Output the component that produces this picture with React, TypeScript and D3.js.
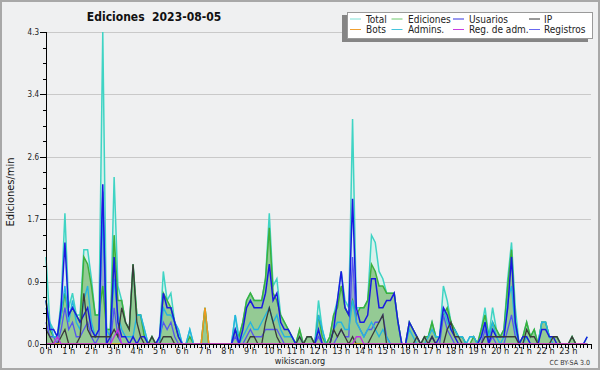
import React from "react";
import * as d3 from "d3";

// values are edits per 10 minutes (tenths of edits/min), one point every 10 minutes
const total = [
  12,3,2,1,6,18,5,7,4,4,
  13,13,9,4,4,43,2,2,23,8,
  6,3,2,11,4,4,2,0,1,0,
  1,10,6,7,3,2,0,0,2,0,
  0,0,5,0,0,0,0,0,0,0,
  4,1,3,6,7,6,6,6,9,18,
  8,9,4,3,2,1,0,2,0,1,
  1,0,6,2,0,1,4,6,10,6,
  5,31,5,5,5,6,15,14,10,9,
  7,7,7,3,0,0,3,2,1,0,
  1,1,3,1,1,8,6,3,2,1,
  1,0,1,1,0,2,5,1,5,2,
  1,2,9,14,5,0,1,3,1,2,
  0,3,3,1,1,1,0,0,0,1,
  0,0,0,1,
];
const ediciones = [
  6,2,1,1,4,7,4,5,4,3,
  12,11,8,4,4,8,2,2,15,6,
  6,3,2,11,4,4,1,0,1,0,
  0,7,6,5,3,1,0,0,1,0,
  0,0,5,0,0,0,0,0,0,0,
  2,1,3,6,7,6,6,6,9,16,
  7,6,4,3,2,1,0,2,0,1,
  1,0,4,1,0,1,4,5,8,5,
  4,6,4,5,5,6,11,10,8,8,
  7,7,7,3,0,0,3,2,1,0,
  1,1,3,1,1,4,5,3,2,1,
  1,0,0,1,0,2,4,1,3,2,
  1,2,8,13,3,0,1,3,1,2,
  0,3,3,1,1,1,0,0,0,1,
  0,0,0,0,
];
const usuarios = [
  6,2,2,1,5,14,4,5,4,3,
  4,5,2,1,2,22,0,1,12,3,
  1,1,0,1,0,1,1,0,0,0,
  1,7,5,5,3,1,0,0,0,0,
  0,0,0,0,0,0,0,0,0,0,
  2,0,2,5,6,5,5,5,7,11,
  6,7,3,2,2,1,0,0,0,0,
  0,0,2,0,0,0,2,6,10,5,
  4,20,5,3,3,4,9,9,5,5,
  6,6,7,3,0,0,3,2,1,0,
  0,0,1,0,1,5,4,2,1,0,
  0,0,0,0,0,1,3,0,2,1,
  1,1,5,12,3,0,1,1,0,0,
  0,2,2,1,1,0,0,0,0,0,
  0,0,0,1,
];
const ip = [
  2,1,0,0,1,2,0,0,0,1,
  7,2,1,1,1,1,1,1,2,1,
  5,3,2,11,3,1,0,0,1,0,
  0,1,1,1,0,0,0,0,0,0,
  0,0,0,0,0,0,0,0,0,0,
  0,0,0,0,1,1,0,0,3,5,
  3,1,0,0,0,0,0,1,0,1,
  1,0,0,0,0,0,2,1,2,1,
  0,1,0,0,0,0,1,2,3,4,
  0,0,0,0,0,0,0,0,1,0,
  1,0,1,0,0,0,2,3,1,1,
  0,0,0,0,0,0,1,1,1,1,
  1,1,1,1,1,0,0,2,1,1,
  0,0,0,0,1,1,0,0,0,1,
  0,0,0,0,
];
const admins = [
  5,3,1,1,4,8,3,6,3,2,
  6,8,3,1,2,18,2,1,9,4,
  2,1,1,1,4,4,2,0,0,0,
  0,5,4,4,3,2,0,0,2,0,
  0,0,0,0,0,0,0,0,0,0,
  4,0,1,2,3,2,2,3,4,5,
  3,4,2,1,1,1,0,1,0,0,
  0,0,4,2,0,0,2,3,3,2,
  2,6,3,2,1,2,3,2,1,2,
  1,0,0,0,0,0,2,1,0,0,
  0,1,2,1,1,5,3,2,2,1,
  1,0,1,1,0,1,3,1,3,1,
  0,1,6,8,2,0,0,1,0,0,
  0,3,3,1,0,0,0,0,0,0,
  0,0,0,0,
];
const registros = [
  3,1,1,0,2,5,2,3,1,1,
  2,3,1,0,1,21,0,0,5,1,
  0,0,0,0,0,0,0,0,0,0,
  1,3,2,3,1,0,0,0,0,0,
  0,0,0,0,0,0,0,0,0,0,
  1,0,0,1,2,1,1,1,2,2,
  2,2,1,0,0,0,0,0,0,0,
  0,0,1,0,0,0,0,1,2,1,
  1,12,3,2,1,2,2,3,3,4,
  1,0,0,0,0,0,0,0,0,0,
  0,0,0,0,0,4,2,1,0,0,
  0,0,0,0,0,0,2,0,1,0,
  0,0,2,4,1,0,0,0,0,0,
  0,0,0,0,0,0,0,0,0,0,
  0,0,0,0,
];
const bots = [
  0,0,0,0,0,0,0,0,0,0,
  0,0,0,0,0,0,0,0,0,0,
  0,0,0,0,0,0,0,0,0,0,
  0,0,0,0,0,0,0,0,0,0,
  0,0,5,0,0,0,0,0,0,0,
  0,0,0,0,0,0,0,0,0,0,
  0,0,0,0,0,0,0,0,0,0,
  0,0,0,0,0,0,0,0,0,0,
  0,0,0,0,0,0,0,0,0,0,
  0,0,0,0,0,0,0,0,0,0,
  0,0,0,0,0,0,0,0,0,0,
  0,0,0,0,0,0,0,0,0,0,
  0,0,0,0,0,0,0,0,0,0,
  0,0,0,0,0,0,0,0,0,0,
  0,0,0,0,
];
const regAdm = [
  0,0,0,1,0,0,0,0,0,0,
  0,0,0,0,0,0,0,0,1,2,
  0,0,0,0,0,0,0,0,0,0,
  0,0,0,0,0,0,0,0,0,0,
  0,0,0,0,0,0,0,0,0,0,
  0,0,0,0,0,0,0,0,0,0,
  0,0,0,0,0,0,0,0,0,0,
  0,0,0,0,0,0,0,0,0,0,
  0,0,1,1,0,0,0,0,0,0,
  0,0,0,0,0,0,0,0,0,0,
  0,0,0,0,0,0,0,0,0,0,
  0,0,0,0,0,0,0,0,0,0,
  0,0,0,0,0,0,0,0,0,0,
  0,0,0,0,0,0,0,0,0,0,
  0,0,0,0,
];

const yTickValues = [0, 0.86, 1.72, 2.58, 3.44, 4.3];
const yTickLabels = ["0.0", "0.9", "1.7", "2.6", "3.4", "4.3"];
const hours = d3.range(24);
const hourLabels = hours.map((h) => `${h} h`);

const legendRow1 = [
  { name: "Total", color: "#7fe0d6" },
  { name: "Ediciones", color: "#6cc86c" },
  { name: "Usuarios", color: "#3333e0" },
  { name: "IP", color: "#333333" },
];
const legendRow2 = [
  { name: "Bots", color: "#f0a030" },
  { name: "Admins.", color: "#45c4dc" },
  { name: "Reg. de adm.", color: "#c83ce0" },
  { name: "Registros", color: "#6868f0" },
];

const FONT = "'DejaVu Sans Condensed', 'DejaVu Sans', sans-serif";

export default function App() {
  const x = d3.scaleLinear().domain([0, 1440]).range([46, 591]);
  const y = d3.scaleLinear().domain([0, 4.3]).range([344, 32]);
  const pts = (arr: number[]) => arr.map((v, i) => [i * 10, v / 10] as [number, number]);
  const line = d3
    .line<[number, number]>()
    .x((d) => x(d[0]))
    .y((d) => y(d[1]));
  const area = d3
    .area<[number, number]>()
    .x((d) => x(d[0]))
    .y0(y(0))
    .y1((d) => y(d[1]));

  const minorY = d3.range(0, 21).map((k) => k * 0.215);
  const minorX = d3.range(0, 145).map((k) => k * 10);

  const lines = [
    { d: total, c: "#3fd4c4", w: 1.5 },
    { d: ediciones, c: "#3cb03c", w: 1.5 },
    { d: registros, c: "#5555ee", w: 1.3 },
    { d: admins, c: "#25b4e0", w: 1.4 },
    { d: usuarios, c: "#1a1ae0", w: 1.5 },
    { d: ip, c: "#3a3a3a", w: 1.3 },
    { d: bots, c: "#f09820", w: 1.5 },
    { d: regAdm, c: "#c030e0", w: 1.3 },
  ];

  const colX = [350, 391.5, 453, 529];
  const textX = [366, 408, 469, 544];

  return (
    <svg
      width={600}
      height={370}
      style={{ position: "absolute", left: 0, top: 0, display: "block" }}
      fontFamily={FONT}
    >
      <rect x={1} y={1} width={598} height={368} fill="#eff0f1" stroke="#a8a8a8" strokeWidth={2} />

      {/* grid */}
      {yTickValues.map((v, i) => (
        <line key={"g" + i} x1={46} x2={591} y1={Math.round(y(v)) + 0.5} y2={Math.round(y(v)) + 0.5} stroke="#c9c9c9" strokeWidth={1} />
      ))}

      {/* fills */}
      <path d={area(pts(total)) || ""} fill="#d8f0ec" />
      <path d={area(pts(registros)) || ""} fill="#93aac6" />
      <path d={area(pts(ediciones)) || ""} fill="#94ca94" />

      {lines.map((l, i) => (
        <path key={"l" + i} d={line(pts(l.d)) || ""} fill="none" stroke={l.c} strokeWidth={l.w} strokeLinejoin="miter" />
      ))}

      {/* axes */}
      <g shapeRendering="crispEdges" stroke="#000">
        <line x1={46.5} x2={46.5} y1={32} y2={344.5} strokeWidth={1} />
        <line x1={46} x2={591} y1={344.5} y2={344.5} strokeWidth={1} />
        {minorY.map((v, i) => (
          <line key={"my" + i} x1={i % 4 === 0 ? 40 : 43} x2={46} y1={Math.round(y(v)) + 0.5} y2={Math.round(y(v)) + 0.5} />
        ))}
        {minorX.map((m, i) => (
          <line key={"mx" + i} x1={Math.round(x(m)) + 0.5} x2={Math.round(x(m)) + 0.5} y1={344} y2={i % 6 === 0 ? 349 : 347.5} />
        ))}
      </g>
      {yTickValues.map((v, i) => (
        <text key={"yl" + i} x={39} y={y(v) + 3} fontSize={8} textAnchor="end" fill="#222">
          {yTickLabels[i]}
        </text>
      ))}
      {hours.map((h, i) => (
        <text key={"xl" + i} x={x(h * 60)} y={354} fontSize={9} textAnchor="middle" fill="#222">
          {hourLabels[i]}
        </text>
      ))}
      <text transform={`translate(14,192) rotate(-90)`} fontSize={11} textAnchor="middle" fill="#111">
        Ediciones/min
      </text>

      {/* title */}
      <text x={154} y={21} fontSize={12} fontWeight="bold" textAnchor="middle" fill="#111">
        {"Ediciones\u00A0\u00A02023-08-05"}
      </text>

      {/* legend */}
      <rect x={342} y={15} width={246} height={27} fill="#858585" />
      <rect x={347.5} y={12.5} width={245} height={26} fill="#ffffff" stroke="#9a9a9a" strokeWidth={1} />
      {[legendRow1, legendRow2].map((row, r) =>
        row.map((it, c) => (
          <g key={`lg${r}-${c}`}>
            <line x1={colX[c]} x2={colX[c] + 11} y1={r === 0 ? 19 : 29.5} y2={r === 0 ? 19 : 29.5} stroke={it.color} strokeWidth={1} />
            <text x={textX[c]} y={r === 0 ? 22.5 : 33} fontSize={10} fill="#222">
              {it.name}
            </text>
          </g>
        ))
      )}

      {/* footer */}
      <text x={300} y={364} fontSize={9} textAnchor="middle" fill="#222">
        wikiscan.org
      </text>
      <text x={590} y={365} fontSize={7} textAnchor="end" fill="#333">
        CC BY-SA 3.0
      </text>
    </svg>
  );
}
